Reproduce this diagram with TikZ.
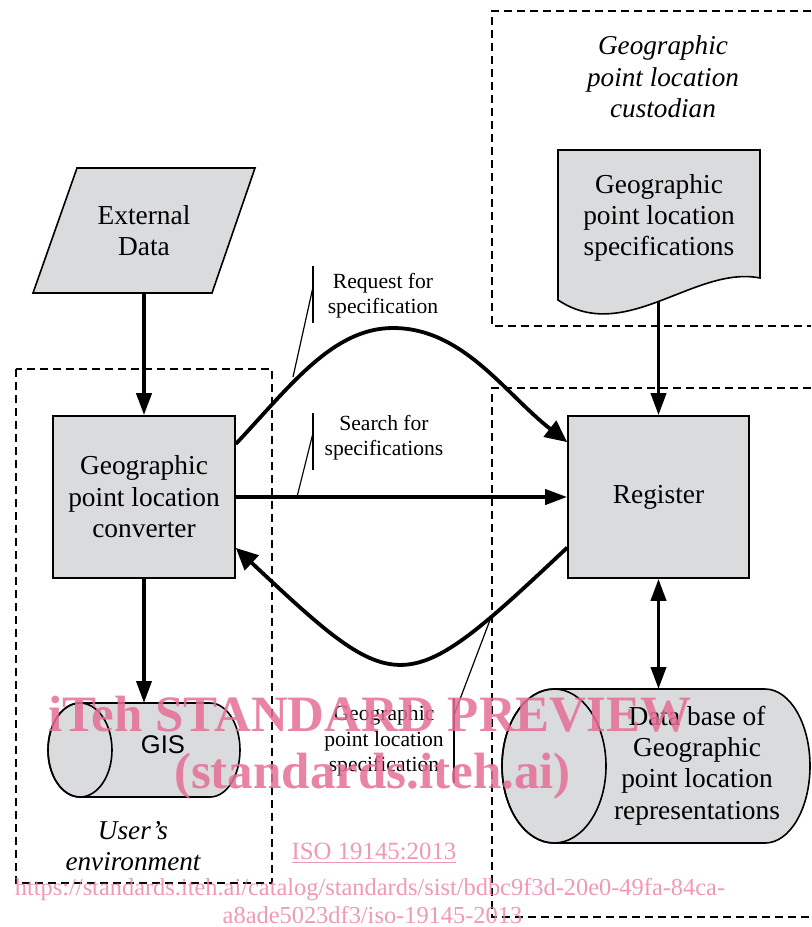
\documentclass[tikz,border=0pt]{standalone}
\usepackage{fontspec}
\setmainfont{Liberation Serif}
\newfontfamily\gissans{Liberation Sans}
\usetikzlibrary{arrows.meta,calc}
\definecolor{boxgray}{RGB}{218,219,221}
\definecolor{wmpink}{RGB}{230,110,150}
\definecolor{wmlight}{RGB}{236,135,170}
\begin{document}
\begin{tikzpicture}[x=0.5pt,y=-0.5pt,
  shapebox/.style={draw, line width=0.8pt, fill=boxgray},
  boxtext/.style={font=\fontsize{13.7}{15.7}\selectfont, align=center, inner sep=0pt},
  lbl/.style={font=\fontsize{10.8}{12.4}\selectfont, align=center, inner sep=0pt},
  envtext/.style={font=\fontsize{13.6}{15.8}\selectfont\itshape, align=center, inner sep=0pt},
  region/.style={draw, line width=0.6pt, dash pattern=on 4pt off 2.5pt},
  flow/.style={line width=1.9pt, -{Triangle[length=11pt,width=7.5pt]}},
  curveflow/.style={line width=1.9pt, -{Triangle[length=11pt,width=10pt]}},
  flowboth/.style={line width=1.9pt, {Triangle[length=11pt,width=7.5pt]}-{Triangle[length=11pt,width=7.5pt]}},
  callout/.style={line width=0.6pt},
  wm/.style={text=wmpink, opacity=0.85, inner sep=0pt, anchor=base}
]
\useasboundingbox (0,0) rectangle (811,927);

% regions
\draw[region] (811,11) -- (492,11) -- (492,326) -- (811,326);
\draw[region] (16,369) rectangle (272,883);
\draw[region] (811,388) -- (492,388) -- (492,917) -- (811,917);

\node[envtext] (cust) at (663,77) {Geographic\\point location\\custodian};
\node[envtext] (usr) at (133,846) {User’s\\environment};

% document shape
\filldraw[shapebox] (558,150) -- (760,150) -- (760,278) .. controls (695,265) and (625,345) .. (558,300) -- cycle;
\node[boxtext] (spec) at (659,218) {Geographic\\point location\\specifications};
\coordinate (specb) at (658.5,302);

% external data
\filldraw[shapebox] (77,168) -- (255,168) -- (212,293) -- (33,293) -- cycle;
\node[boxtext, minimum height=62.5pt] (ext) at (144,230.5) {External\\Data};

% boxes
\node[shapebox, boxtext, minimum width=91pt, minimum height=81pt] (conv) at (144,497) {Geographic\\point location\\converter};
\node[shapebox, boxtext, minimum width=90.5pt, minimum height=81pt] (reg) at (658.5,497) {Register};

% GIS cylinder
\filldraw[shapebox] (80,703) -- (210,703) arc[start angle=-90,end angle=90,x radius=30,y radius=47] -- (80,797) arc[start angle=90,end angle=270,x radius=32,y radius=47] -- cycle;
\draw[line width=0.8pt] (80,750) ellipse [x radius=32, y radius=47];
\node[font=\gissans\fontsize{12.8}{14}\selectfont, inner sep=0pt] (gis) at (163,745) {GIS};
\coordinate (gistop) at (144,703);

% database cylinder
\filldraw[shapebox] (554,689) -- (765,689) arc[start angle=-90,end angle=90,x radius=45,y radius=77] -- (554,843) arc[start angle=90,end angle=270,x radius=52,y radius=77] -- cycle;
\draw[line width=0.8pt] (554,766) ellipse [x radius=52, y radius=77];
\node[boxtext] (db) at (697,765.5) {Data base of\\Geographic\\point location\\representations};
\coordinate (dbtop) at (658.5,689);

% connectors
\draw[flow] (ext.south) -- (conv.north);
\draw[flow] (specb) -- (reg.north);
\draw[flow] (conv.south) -- (gistop);
\draw[flowboth] (reg.south) -- (dbtop);
\draw[flow] (conv.east) -- (reg.west);
\draw[curveflow] (conv.30.7) .. controls (290.6,385.5) and (333,328) .. (393,328) .. controls (463,328) and (505,393.7) .. (reg.149.3);
\draw[curveflow] (reg.209.3) .. controls (403.5,701.5) and (399.5,701.5) .. (conv.-29.3);

% labels and callouts
\node[lbl] (reqlbl) at (383,296) {Request for\\specification};
\node[lbl] (srchlbl) at (384,438) {Search for\\specifications};
\node[lbl, font=\fontsize{10.8}{12.75}\selectfont] (speclbl) at (384,741) {Geographic\\point location\\specification};
\coordinate (r1) at (313,266); \coordinate (r2) at (313,323); \coordinate (r3) at (313,287); \coordinate (r4) at (293,377);
\coordinate (s1) at (313,413); \coordinate (s2) at (313,470); \coordinate (s3) at (313,433); \coordinate (s4) at (297,497);
\coordinate (g1) at (454,698); \coordinate (g2) at (454,783); \coordinate (g3) at (454,715); \coordinate (g4) at (490,620);
\draw[callout] (r1) -- (r2); \draw[callout] (r3) -- (r4);
\draw[callout] (s1) -- (s2); \draw[callout] (s3) -- (s4);
\draw[callout] (g1) -- (g2); \draw[callout] (g3) -- (g4);

% watermark
\node[wm, font=\bfseries\fontsize{25.5}{30}\selectfont] (wm1) at (370,731) {iTeh STANDARD PREVIEW};
\node[wm, font=\bfseries\fontsize{25.5}{30}\selectfont] (wm2) at (372.5,788) {(standards.iteh.ai)};
\node[wm, text=wmlight, font=\fontsize{12.4}{14}\selectfont] (wm3) at (374,859) {\underline{ISO 19145:2013}};
\node[wm, text=wmlight, font=\fontsize{12.2}{14}\selectfont] (wm4) at (370,895) {https://standards.iteh.ai/catalog/standards/sist/bdbc9f3d-20e0-49fa-84ca-};
\node[wm, text=wmlight, font=\fontsize{12.2}{14}\selectfont] (wm5) at (372.5,923) {a8ade5023df3/iso-19145-2013};
\end{tikzpicture}
\end{document}
